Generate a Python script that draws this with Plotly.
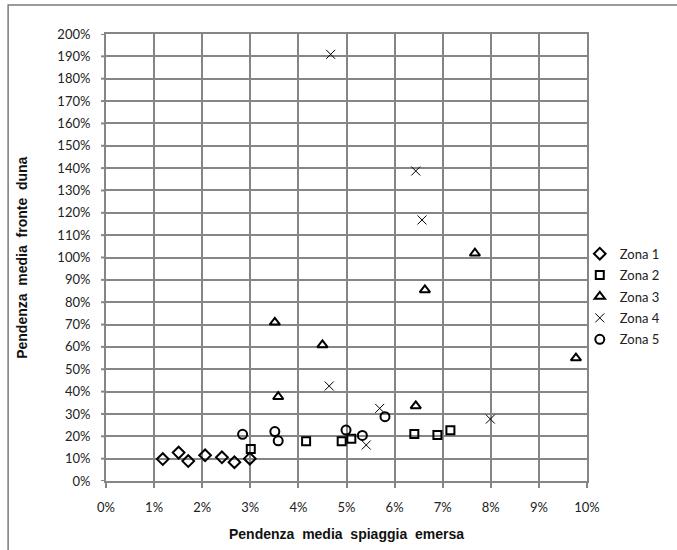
import plotly.graph_objects as go

# Pendenza media spiaggia emersa (x, %) vs pendenza media fronte duna (y, %)
zona1_x = [1.18, 1.51, 1.71, 2.06, 2.41, 2.67, 2.99]
zona1_y = [9.8, 12.7, 8.9, 11.5, 10.6, 8.4, 10.0]

zona2_x = [3.01, 4.16, 4.90, 5.10, 6.41, 6.89, 7.16]
zona2_y = [14.3, 17.8, 17.8, 18.9, 21.0, 20.6, 22.7]

zona3_x = [3.51, 3.58, 4.50, 6.44, 6.63, 7.67, 9.77]
zona3_y = [71.0, 37.7, 60.9, 33.6, 85.5, 101.9, 55.0]

zona4_x = [4.67, 4.64, 5.41, 5.69, 6.44, 6.57, 7.99]
zona4_y = [190.9, 42.5, 16.1, 32.5, 138.7, 116.8, 27.7]

zona5_x = [2.84, 3.51, 3.58, 4.99, 5.33, 5.80]
zona5_y = [20.9, 22.1, 18.0, 22.8, 20.4, 28.8]

x_ticks = list(range(0, 11))
y_ticks = list(range(0, 201, 10))

x_title = "Pendenza \u00a0media \u00a0spiaggia \u00a0emersa"
y_title = "Pendenza \u00a0media \u00a0fronte \u00a0duna"

series = [
    ("Zona 1", zona1_x, zona1_y, "diamond-open", 9, 2),
    ("Zona 2", zona2_x, zona2_y, "square-open", 8, 2),
    ("Zona 3", zona3_x, zona3_y, "triangle-up-open", 9, 2),
    ("Zona 4", zona4_x, zona4_y, "x-thin-open", 9, 1),
    ("Zona 5", zona5_x, zona5_y, "circle-open", 9, 2),
]

fig = go.Figure()
for name, xs, ys, sym, size, lw in series:
    fig.add_trace(go.Scatter(
        x=[v / 100 for v in xs], y=[v / 100 for v in ys], name=name,
        legendgroup=name, mode="markers",
        marker=dict(symbol=sym, size=size, color="black",
                    line=dict(color="black", width=lw)),
        cliponaxis=False,
    ))

grid = "#868686"
tick_font = dict(family="Lato, Carlito, Liberation Sans, sans-serif", size=13, color="#222")
title_font = dict(family="Liberation Sans, Arial, sans-serif", size=14, color="#111")
fig.update_xaxes(
    range=[0, 0.1], tickvals=[v / 100 for v in x_ticks], tickformat=".0%",
    showgrid=True, gridcolor=grid, gridwidth=2,
    showline=True, linecolor=grid, linewidth=2, mirror=True,
    ticks="outside", ticklen=5, tickcolor=grid, tickwidth=2,
    tickfont=tick_font, zeroline=False, ticklabelstandoff=8,
)
# long transparent ticks keep the labels clear of the axis; short marks drawn below
fig.update_yaxes(
    range=[0, 2.0], tickvals=[v / 100 for v in y_ticks], tickformat=".0%",
    showgrid=True, gridcolor=grid, gridwidth=2,
    showline=True, linecolor=grid, linewidth=2, mirror=True,
    ticks="outside", ticklen=11, tickcolor="rgba(0,0,0,0)", tickwidth=2,
    tickfont=tick_font, zeroline=False,
)

plot_w = 677 - 105.5 - 86
for v in y_ticks:
    fig.add_shape(type="line", xref="paper", yref="y",
                  x0=-5 / plot_w, x1=0, y0=v / 100, y1=v / 100,
                  line=dict(color=grid, width=2))

# axis titles
fig.add_annotation(text=f"<b>{x_title}</b>", xref="paper", yref="paper",
                   x=0.5, y=-0.1186, showarrow=False, font=title_font,
                   xanchor="center", yanchor="middle")
fig.add_annotation(text=f"<b>{y_title}</b>", xref="paper", yref="paper",
                   x=-0.176, y=0.5, showarrow=False, font=title_font, textangle=-90,
                   xanchor="center", yanchor="middle")

# outer chart frame
fig.add_shape(type="rect", xref="paper", yref="paper",
              x0=-0.2035, x1=1.5, y0=-0.3, y1=1.065,
              line=dict(color="#7a7a7a", width=1.5), fillcolor="rgba(0,0,0,0)", layer="below")

fig.update_layout(
    width=677, height=550,
    margin=dict(l=105.5, r=86, t=34, b=69),
    plot_bgcolor="white", paper_bgcolor="white",
    legend=dict(x=0.985, y=0.542, xanchor="left", yanchor="top",
                font=dict(family="Lato, Carlito, Liberation Sans, sans-serif", size=13, color="#222"),
                itemwidth=30, tracegroupgap=1.5, bgcolor="rgba(0,0,0,0)"),
    showlegend=True,
)

fig.write_html("out.html")
